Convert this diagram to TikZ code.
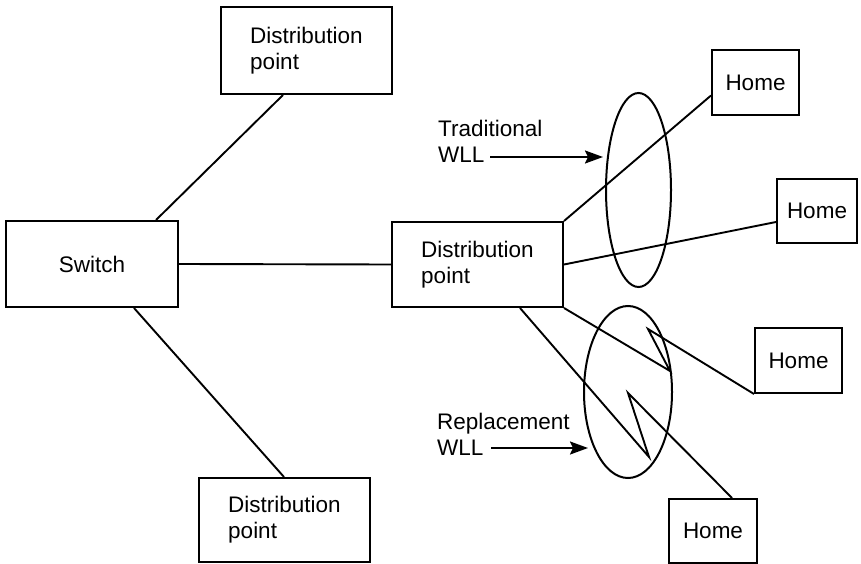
\documentclass[tikz,border=0pt]{standalone}
\usepackage{fontspec}
\setmainfont{Liberation Sans}
\usetikzlibrary{arrows.meta,shapes.geometric,calc}
\tikzset{
  box/.style={draw, line width=2pt, rectangle, inner sep=0pt, align=left,
    font=\fontsize{22.5}{26}\selectfont},
  link/.style={line width=1.9pt, line join=miter},
  oval/.style={draw, line width=2pt, ellipse, inner sep=0pt},
  lbl/.style={inner sep=0pt, align=left, font=\fontsize{22.5}{26}\selectfont},
  pointer/.style={line width=2pt, -{Stealth[length=18pt,width=13pt,inset=3pt]}}
}
\begin{document}
\begin{tikzpicture}[x=1pt,y=-1pt]
\useasboundingbox (0,0) rectangle (861,564);
% boxes
\node[box, minimum width=172pt, minimum height=86pt] (sw) at (92,264) {Switch};
\node[box, minimum width=171pt, minimum height=87pt] (dpt) at (306.5,50.5) {Distribution\\point};
\node[box, minimum width=171pt, minimum height=85pt] (dpm) at (477.5,264.5) {Distribution\\point};
\node[box, minimum width=171pt, minimum height=84pt] (dpb) at (284.5,520) {Distribution\\point};
\node[box, minimum width=87pt, minimum height=65pt] (h1) at (755.5,82.5) {Home};
\node[box, minimum width=80pt, minimum height=64pt] (h2) at (817,211) {Home};
\node[box, minimum width=87pt, minimum height=65pt] (h3) at (798.5,360.5) {Home};
\node[box, minimum width=88pt, minimum height=64pt] (h4) at (713,531) {Home};
% ellipses
\node[oval, minimum width=65pt, minimum height=194pt] (e1) at (638.5,190) {};
\node[oval, minimum width=88pt, minimum height=172pt] (e2) at (628,392) {};
% connectors
\draw[link] ([xshift=151pt]sw.north west) -- ([xshift=63pt]dpt.south west);
\draw[link] (sw.east) -- (dpm.west);
\draw[link] ([xshift=129pt]sw.south west) -- ([xshift=86pt]dpb.north west);
\draw[link] (dpm.north east) -- ([yshift=-13pt]h1.west);
\draw[link] (dpm.east) -- ([yshift=-11pt]h2.west);
\draw[link] (dpm.south east) -- (670,371) -- (648,329) -- (h3.south west);
\draw[link] ([xshift=129pt]dpm.south west) -- (649,457) -- (628,393) -- ([xshift=64pt]h4.north west);
% labels and arrows
\node[lbl, anchor=base west] (tl) at (438,163) {Traditional\\WLL};
\coordinate (ta) at (490,157);
\draw[pointer] (ta) -- (603,157);
\node[lbl, anchor=base west] (rl) at (437,455) {Replacement\\WLL};
\coordinate (ra) at (491,448);
\draw[pointer] (ra) -- (588,448);
\end{tikzpicture}
\end{document}
